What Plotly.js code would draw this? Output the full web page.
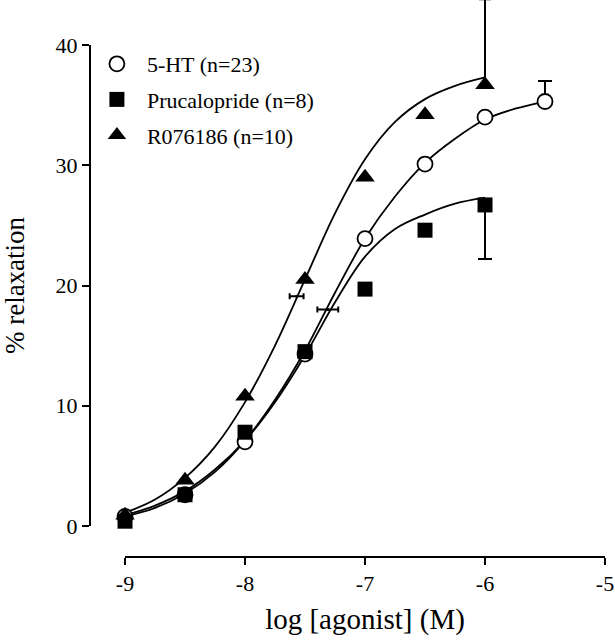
<!DOCTYPE html>
<html>
<head>
<meta charset="utf-8">
<script src="https://cdn.plot.ly/plotly-3.0.1.min.js"></script>
<style>html,body{margin:0;padding:0;background:#fff;}#chart{width:615px;height:640px;}</style>
</head>
<body>
<div id="chart"></div>
<script>
// ---- data ----
var doseHT   = [-9, -8.5, -8, -7.5, -7, -6.5, -6, -5.5];
var valueHT  = [0.8, 2.6, 7.0, 14.3, 23.9, 30.1, 34.0, 35.3];
var errUpHT  = [0, 0, 0, 0, 0, 0, 0, 1.7];

var dosePru   = [-9, -8.5, -8, -7.5, -7, -6.5, -6];
var valuePru  = [0.4, 2.6, 7.8, 14.5, 19.7, 24.6, 26.7];
var errDownPru = [0, 0, 0, 0, 0, 0, 4.5];

var doseR   = [-9, -8.5, -8, -7.5, -7, -6.5, -6];
var valueR  = [0.9, 3.8, 10.8, 20.5, 29.0, 34.2, 36.7];
var errUpR  = [0, 0, 0, 0, 0, 0, 7.1];

// fitted curves
var fitDoseHT = [-9, -8.75, -8.5, -8.25, -8, -7.75, -7.5, -7.25, -7, -6.75, -6.5, -6.25, -6, -5.75, -5.5];
var fitHT     = [0.8, 1.5, 2.7, 4.5, 7.1, 10.5, 14.6, 19.4, 23.9, 27.4, 30.2, 32.2, 33.8, 34.7, 35.3];
var fitDosePR = [-9, -8.75, -8.5, -8.25, -8, -7.75, -7.5, -7.25, -7, -6.75, -6.5, -6.25, -6];
var fitPru    = [0.9, 1.7, 2.9, 4.7, 7.1, 10.3, 14.2, 18.6, 22.4, 24.7, 25.9, 26.8, 27.3];
var fitR      = [1.1, 2.2, 4.0, 6.6, 10.3, 15.0, 20.5, 26.0, 30.5, 33.6, 35.5, 36.6, 37.3];

// EC50 estimates with horizontal error
var ec50Dose = [-7.31, -7.57];
var ec50Val  = [18.0, 19.1];
var ec50Err  = [0.087, 0.058];

var legendNames = ['5-HT (n=23)', 'Prucalopride (n=8)', 'R076186 (n=10)'];
var xTicks = [-9, -8, -7, -6, -5];
var yTicks = [0, 10, 20, 30, 40];

var serif = '"Liberation Serif", "Times New Roman", serif';
var lineStyle = {color: '#000', width: 1.8, shape: 'spline', smoothing: 1};

var traces = [
  {x: fitDoseHT, y: fitHT, mode: 'lines', line: lineStyle, showlegend: false, hoverinfo: 'skip', cliponaxis: false},
  {x: fitDosePR, y: fitPru, mode: 'lines', line: lineStyle, showlegend: false, hoverinfo: 'skip', cliponaxis: false},
  {x: fitDosePR, y: fitR, mode: 'lines', line: lineStyle, showlegend: false, hoverinfo: 'skip', cliponaxis: false},
  {x: ec50Dose, y: ec50Val, mode: 'markers', marker: {size: 3, color: '#000'}, showlegend: false, cliponaxis: false,
   error_x: {type: 'data', array: ec50Err, visible: true, color: '#000', thickness: 2, width: 3}},
  {x: doseHT, y: valueHT, mode: 'markers', name: legendNames[0], legendgroup: 'a', cliponaxis: false,
   marker: {symbol: 'circle', size: 15, color: '#fff', line: {color: '#000', width: 1.8}},
   error_y: {type: 'data', symmetric: false, array: errUpHT, arrayminus: errUpHT.map(function(){return 0;}), visible: true, color: '#000', thickness: 2, width: 7}},
  {x: dosePru, y: valuePru, mode: 'markers', name: legendNames[1], legendgroup: 'b', cliponaxis: false,
   marker: {symbol: 'square', size: 15, color: '#000', line: {color: '#000', width: 0}},
   error_y: {type: 'data', symmetric: false, array: errDownPru.map(function(){return 0;}), arrayminus: errDownPru, visible: true, color: '#000', thickness: 2, width: 7}},
  {x: doseR, y: valueR, mode: 'markers', name: legendNames[2], legendgroup: 'c', cliponaxis: false,
   marker: {symbol: 'triangle-up', size: 17, color: '#000', line: {color: '#000', width: 0}},
   error_y: {type: 'data', symmetric: false, array: errUpR, arrayminus: errUpR.map(function(){return 0;}), visible: true, color: '#000', thickness: 2, width: 6}},
  // carrier for the visible y axis (0-40)
  {x: [], y: [], yaxis: 'y2', mode: 'markers', showlegend: false, hoverinfo: 'skip'}
];

// geometry: plot area 0..557 px tall, value 0 at 526 px, 40 at 45 px
var H = 557, yZeroPx = 526, y40Px = 45;
var pxPerUnit = (yZeroPx - y40Px) / 40;

var layout = {
  width: 615, height: 640,
  margin: {l: 90, r: 10, t: 0, b: 83},
  paper_bgcolor: '#fff', plot_bgcolor: 'rgba(0,0,0,0)',
  font: {family: serif, color: '#000', size: 22},
  showlegend: true,
  legend: {x: -0.006, y: 1 - 43 / H, xanchor: 'left', yanchor: 'top', bgcolor: 'rgba(0,0,0,0)',
           font: {family: serif, size: 22, color: '#000'}, traceorder: 'grouped', tracegroupgap: 4, itemwidth: 50},
  xaxis: {
    range: [-9, -5], domain: [0.068, 1], anchor: 'free', position: 0,
    tickvals: xTicks, ticktext: xTicks.map(String),
    showline: true, linecolor: '#000', linewidth: 2,
    ticks: 'outside', ticklen: 7, tickwidth: 2, tickcolor: '#000',
    showgrid: false, zeroline: false,
    tickfont: {family: serif, size: 22, color: '#000'},
    title: {text: 'log [agonist] (M)', font: {family: serif, size: 29, color: '#000'}, standoff: 12}
  },
  yaxis: {
    range: [0, yZeroPx / pxPerUnit], domain: [(H - yZeroPx) / H, 1], anchor: 'free', position: 0,
    visible: false, showgrid: false, zeroline: false
  },
  yaxis2: {
    range: [0, 40], domain: [(H - yZeroPx) / H, (H - y40Px) / H], anchor: 'free', position: 0,
    tickvals: yTicks, ticktext: yTicks.map(String),
    showline: true, linecolor: '#000', linewidth: 2,
    ticks: 'outside', ticklen: 7, tickwidth: 2, tickcolor: '#000',
    showgrid: false, zeroline: false,
    tickfont: {family: serif, size: 22, color: '#000'},
    title: {text: '% relaxation', font: {family: serif, size: 27, color: '#000'}, standoff: 26}
  }
};

Plotly.newPlot('chart', traces, layout, {displayModeBar: false, staticPlot: true});
</script>
</body>
</html>
